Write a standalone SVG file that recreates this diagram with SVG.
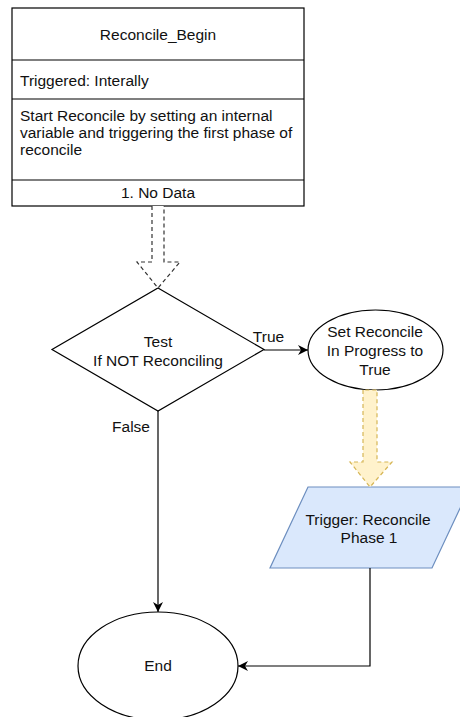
<svg xmlns="http://www.w3.org/2000/svg" width="460" height="717" viewBox="0 0 460 717">
<defs>
<style>
.t{font-family:"Liberation Sans",Arial,Helvetica,sans-serif;font-size:15.5px;fill:#111;}
.c{text-anchor:middle;}
.ln{fill:none;stroke:#000;stroke-width:1.2;}
.shape{fill:#fff;stroke:#000;stroke-width:1.2;}
</style>
<marker id="arr" viewBox="0 0 10 10" refX="10" refY="5" markerWidth="10" markerHeight="10" markerUnits="userSpaceOnUse" orient="auto">
<path d="M0,0 L10,5 L0,10 L3,5 Z" fill="#000"/>
</marker>
</defs>
<rect width="460" height="717" fill="#fff"/>

<g id="reconcile_begin">
<rect class="shape" x="12" y="8" width="292" height="198"/>
<line class="ln" x1="12" y1="60" x2="304" y2="60"/>
<line class="ln" x1="12" y1="99" x2="304" y2="99"/>
<line class="ln" x1="12" y1="180" x2="304" y2="180"/>
<text class="t c" x="158" y="40">Reconcile_Begin</text>
<text class="t" x="20" y="86">Triggered: Interally</text>
<text class="t" x="20" y="121">Start Reconcile by setting an internal</text>
<text class="t" x="20" y="138">variable and triggering the first phase of</text>
<text class="t" x="20" y="155">reconcile</text>
<text class="t c" x="158" y="198">1. No Data</text>
</g>

<g id="test">
<polygon class="shape" points="158,288 264,349.5 158,411 52,349.5"/>
<text class="t c" x="158" y="347">Test</text>
<text class="t c" x="158" y="366">If NOT Reconciling</text>
</g>

<g id="set_reconcile">
<ellipse class="shape" cx="375.5" cy="350" rx="67.5" ry="40"/>
<text class="t c" x="375" y="337">Set Reconcile</text>
<text class="t c" x="375" y="356">In Progress to</text>
<text class="t c" x="375" y="375">True</text>
</g>

<g id="trigger_phase1">
<polygon points="308,487 470,487 432,568 270,568" fill="#dae8fc" stroke="#6c8ebf" stroke-width="1.2"/>
<text class="t c" x="368" y="525">Trigger: Reconcile</text>
<text class="t c" x="369" y="543">Phase 1</text>
</g>

<g id="end">
<ellipse class="shape" cx="158" cy="666" rx="80" ry="54"/>
<text class="t c" x="158" y="671">End</text>
</g>

<g id="connectors">
<path d="M152,206 L152,262 L137,262 L158,288 L180,262 L164,262 L164,206" fill="#fff" stroke="#333" stroke-width="1.2" stroke-dasharray="4,3"/>
<path d="M363,390 L363,462 L350,462 L370,487 L392,462 L377,462 L377,390 Z" fill="#fff2cc" stroke="#d6b656" stroke-width="1.2" stroke-dasharray="4,3"/>
<line class="ln" x1="264" y1="350" x2="308" y2="350" marker-end="url(#arr)"/>
<text class="t c" x="268.5" y="342">True</text>
<line class="ln" x1="158" y1="411" x2="158" y2="612" marker-end="url(#arr)"/>
<text class="t c" x="131" y="432">False</text>
<path class="ln" d="M370,568 L370,666 L238,666" marker-end="url(#arr)"/>
</g>
</svg>
